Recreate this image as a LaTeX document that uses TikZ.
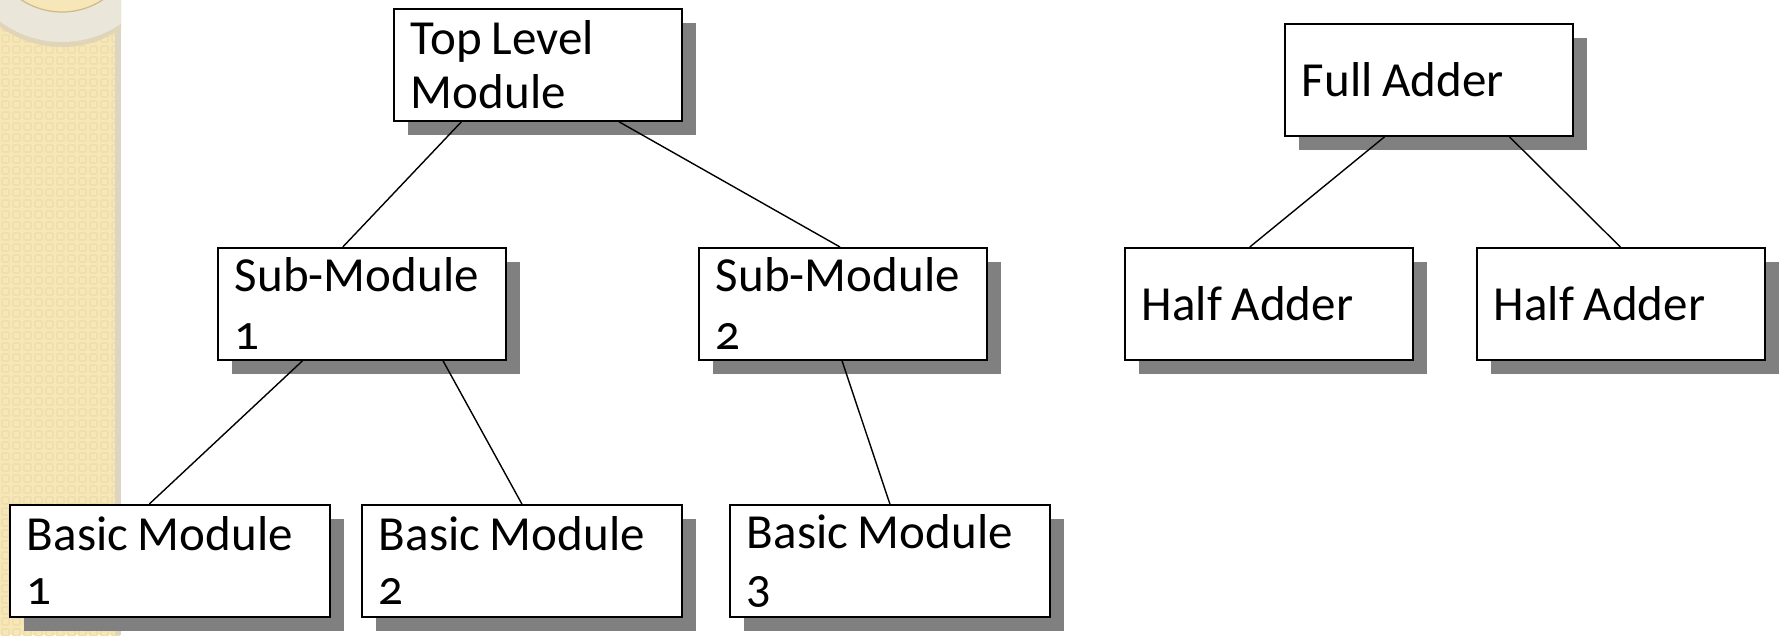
\documentclass[tikz,border=0pt]{standalone}
\usepackage{fontspec}
\setmainfont{Carlito}[Numbers=OldStyle]
\usetikzlibrary{calc,shadows}
\definecolor{paper}{HTML}{F7E7B8}
\definecolor{paperdot}{HTML}{EFDFAC}
\definecolor{ring}{HTML}{EAE6DA}
\definecolor{ringedge}{HTML}{CDB98A}
\definecolor{stripedge}{HTML}{DCD5C2}
\begin{document}
\begin{tikzpicture}[x=1pt,y=-1pt,
  box/.style={draw=black, line width=1.8pt, fill=white, anchor=north west,
    align=left, inner xsep=17pt, inner ysep=0pt, minimum height=112pt,
    font=\fontsize{49}{54}\selectfont,
    execute at begin node={\spaceskip=0.2em\relax},
    drop shadow={shadow xshift=14pt, shadow yshift=-14pt, fill=black!50, opacity=1}},
  nbox/.style={box, minimum width=288pt, text width=254pt},
  wbox/.style={box, minimum width=320pt, text width=286pt},
  link/.style={draw=black, line width=1.4pt}]

% page
\useasboundingbox (0,0) rectangle (1785,635);
\fill[white] (0,0) rectangle (1785,635);

% textured side strip with the ring at its top
\begin{scope}
  \clip (0,0) rectangle (121,635);
  \fill[paper] (0,0) rectangle (121,635);
  \foreach \i in {0,...,11}
    \foreach \j in {0,...,58}
      \draw[paperdot, line width=1.6pt, rounded corners=1pt]
        ({\i*11+2},{\j*11+2}) rectangle ++(7,7);
  \fill[stripedge] (115,0) rectangle (121,635);
  \fill[ringedge!60] (62,-58) circle[radius=105];
  \fill[ring] (62,-62) circle[radius=104];
  \fill[paper] (62,-62) circle[radius=74];
  \draw[ringedge, line width=1.2pt] (62,-62) circle[radius=74];
\end{scope}

% module hierarchy
\node[nbox] (tlm) at (393,8)    {Top Level\\Module};
\node[nbox] (sm1) at (217,247)  {Sub-Module\\[4pt]1};
\node[nbox] (sm2) at (698,247)  {Sub-Module\\[4pt]2};
\node[wbox] (bm1) at (9,504)    {Basic Module\\1};
\node[wbox] (bm2) at (361,504)  {Basic Module\\2};
\node[wbox] (bm3) at (729,504)  {Basic Module\\3};

% adder hierarchy
\node[nbox] (fa)  at (1284,23)  {Full Adder};
\node[nbox] (ha1) at (1124,247) {Half Adder};
\node[nbox] (ha2) at (1476,247) {Half Adder};

% connectors
\draw[link] ($(tlm.south west)!0.236!(tlm.south east)$) -- ($(sm1.north west)!0.434!(sm1.north east)$);
\draw[link] ($(tlm.south west)!0.78!(tlm.south east)$)  -- ($(sm2.north west)!0.49!(sm2.north east)$);
\draw[link] ($(sm1.south west)!0.295!(sm1.south east)$) -- ($(bm1.north west)!0.436!(bm1.north east)$);
\draw[link] ($(sm1.south west)!0.78!(sm1.south east)$)  -- ($(bm2.north west)!0.5!(bm2.north east)$);
\draw[link] ($(sm2.south west)!0.497!(sm2.south east)$) -- ($(bm3.north west)!0.5!(bm3.north east)$);
\draw[link] ($(fa.south west)!0.347!(fa.south east)$)   -- ($(ha1.north west)!0.434!(ha1.north east)$);
\draw[link] ($(fa.south west)!0.778!(fa.south east)$)   -- ($(ha2.north west)!0.498!(ha2.north east)$);
\end{tikzpicture}
\end{document}
